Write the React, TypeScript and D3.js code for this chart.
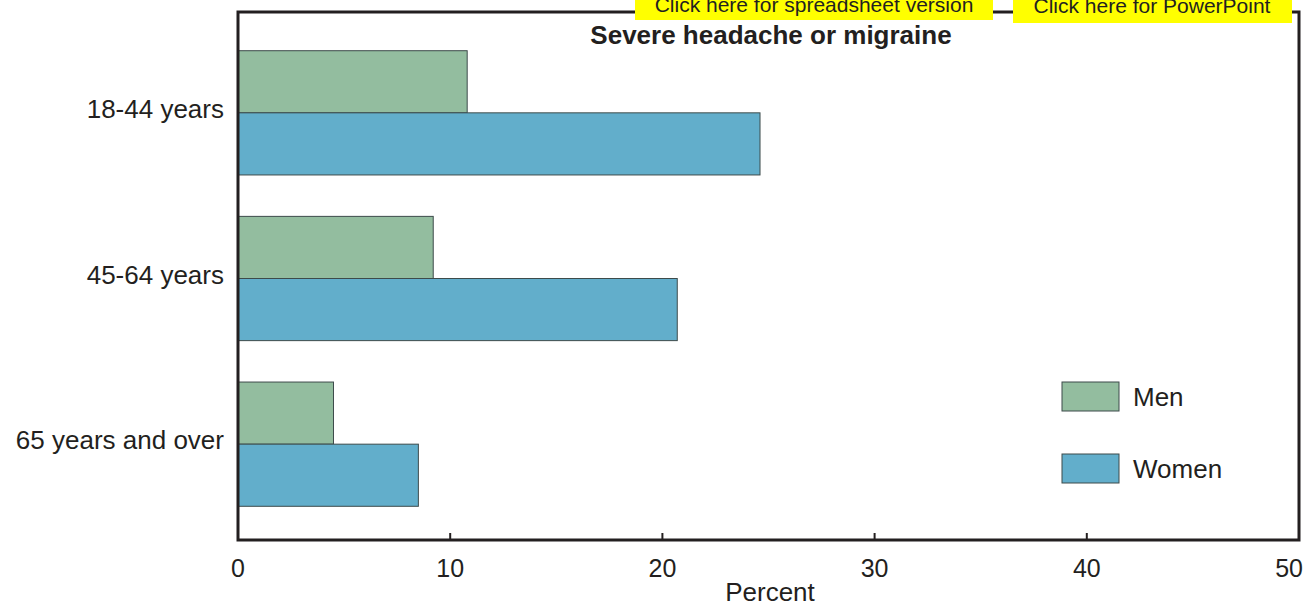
import * as d3 from "d3";

const categories = ["18-44 years", "45-64 years", "65 years and over"];
const men = [10.8, 9.2, 4.5];
const women = [24.6, 20.7, 8.5];
const xTicks = [0, 10, 20, 30, 40, 50];
const seriesNames = ["Men", "Women"];
const seriesColors = ["#93bd9f", "#62aecb"];

const width = 1305;
const height = 605;
const margin = { top: 12, right: 6, bottom: 65, left: 238 };

export default function App() {
  const x = d3
    .scaleLinear()
    .domain([0, 50])
    .range([margin.left, width - margin.right]);

  const y = d3
    .scaleBand<string>()
    .domain(categories)
    .range([30, 527])
    .paddingInner(0.25)
    .paddingOuter(0.125);

  const sub = d3
    .scaleBand<string>()
    .domain(seriesNames)
    .range([0, y.bandwidth()]);

  const bottom = height - margin.bottom;
  const ink = "#231f20";

  return (
    <svg
      width={width}
      height={height}
      style={{ position: "absolute", left: 0, top: 0, fontFamily: "Liberation Sans, Arial, sans-serif" }}
    >
      <rect width={width} height={height} fill="#fff" />

      {/* bars */}
      {categories.map((c, i) => (
        <g key={c}>
          {[men[i], women[i]].map((v, j) => (
            <rect
              key={j}
              x={x(0)}
              y={(y(c) ?? 0) + (sub(seriesNames[j]) ?? 0)}
              width={x(v) - x(0)}
              height={sub.bandwidth()}
              fill={seriesColors[j]}
              stroke="#3d4b4b"
              strokeWidth={1}
            />
          ))}
          <text
            x={224}
            y={(y(c) ?? 0) + y.bandwidth() / 2 - 4}
            textAnchor="end"
            dominantBaseline="central"
            fontSize={26}
            fill={ink}
          >
            {c}
          </text>
        </g>
      ))}

      {/* frame */}
      <path
        d={`M${x(0)},${margin.top} V${bottom} H${x(50)} V${margin.top} Z`}
        fill="none"
        stroke={ink}
        strokeWidth={3}
      />

      {/* ticks */}
      {xTicks.map((t, i) => (
        <g key={t}>
          <line x1={x(t)} x2={x(t)} y1={bottom} y2={bottom - 7} stroke={ink} strokeWidth={2} />
          <text
            x={i === xTicks.length - 1 ? x(t) + 4 : x(t)}
            y={577}
            textAnchor={i === xTicks.length - 1 ? "end" : "middle"}
            fontSize={25}
            fill={ink}
          >
            {t}
          </text>
        </g>
      ))}
      <text x={770} y={601} textAnchor="middle" fontSize={26} fill={ink}>
        Percent
      </text>

      {/* title */}
      <text x={771} y={44} textAnchor="middle" fontSize={26} fontWeight="bold" fill={ink}>
        Severe headache or migraine
      </text>

      {/* legend */}
      {seriesNames.map((s, i) => (
        <g key={s} transform={`translate(1062,${382 + i * 72})`}>
          <rect width={57} height={29} fill={seriesColors[i]} stroke="#3d4b4b" strokeWidth={1} />
          <text x={71} y={24} fontSize={26} fill={ink}>
            {s}
          </text>
        </g>
      ))}

      {/* yellow buttons */}
      <rect x={635} y={0} width={358} height={20} fill="#ffff00" />
      <text x={814} y={12} textAnchor="middle" fontSize={21} fill={ink}>
        Click here for spreadsheet version
      </text>
      <rect x={1013} y={0} width={279} height={23} fill="#ffff00" />
      <text x={1152} y={13} textAnchor="middle" fontSize={21} fill={ink}>
        Click here for PowerPoint
      </text>
    </svg>
  );
}
